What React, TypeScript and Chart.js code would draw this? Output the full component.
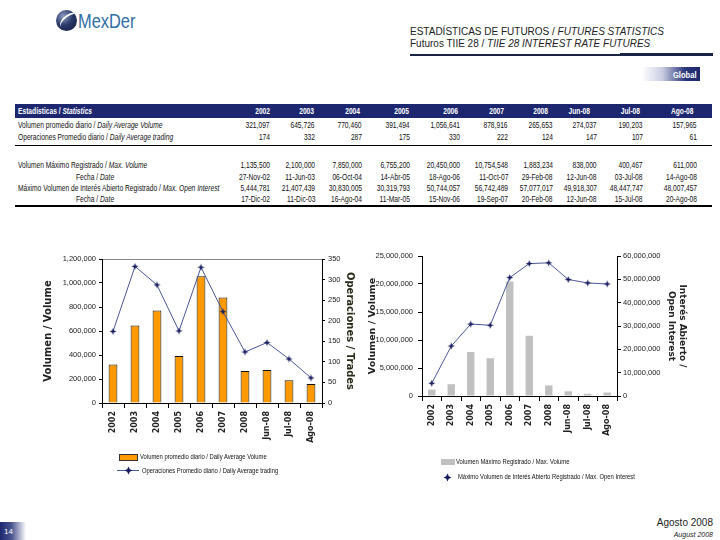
import React, { useEffect, useRef } from 'react';
import { Chart, registerables } from 'chart.js';

Chart.register(...registerables);

// ---------- DATA ----------
const categories = ['2002', '2003', '2004', '2005', '2006', '2007', '2008', 'Jun-08', 'Jul-08', 'Ago-08'];
const dailyAvgVolume = [321097, 645726, 770460, 391494, 1056641, 878916, 265653, 274037, 190203, 157965];
const dailyAvgTrades = [174, 332, 287, 175, 330, 222, 124, 147, 107, 61];
const maxVolume = [1135500, 2100000, 7850000, 6755200, 20450000, 10754548, 1883234, 838000, 400467, 611000];
const maxVolumeDate = ['27-Nov-02', '11-Jun-03', '06-Oct-04', '14-Abr-05', '18-Ago-06', '11-Oct-07', '29-Feb-08', '12-Jun-08', '03-Jul-08', '14-Ago-08'];
const maxOpenInterest = [5444781, 21407439, 30830005, 30319793, 50744057, 56742489, 57077017, 49918307, 48447747, 48007457];
const maxOpenInterestDate = ['17-Dic-02', '11-Dic-03', '16-Ago-04', '11-Mar-05', '15-Nov-06', '19-Sep-07', '20-Feb-08', '12-Jun-08', '15-Jul-08', '20-Ago-08'];

const volumeAxis = [0, 1200000, 200000];
const tradesAxis = [0, 350, 50];
const maxVolumeAxis = [0, 25000000, 5000000];
const openInterestAxis = [0, 60000000, 10000000];

// ---------- STYLE ----------
const ARIAL = "'Liberation Sans', Arial, sans-serif";
const BOLD = "'DejaVu Sans', Verdana, sans-serif";
const NAVY = '#1d2770';
const ORANGE = '#FF9900';
const GRAY = '#C0C0C0';
const LINE = '#4a5796';
const MARK = '#151a5c';

const fmt = (n: number) => n.toLocaleString('en-US');

function makeStar(r: number, color: string) {
  const c = document.createElement('canvas');
  const s = Math.ceil(r * 2 + 2);
  c.width = s;
  c.height = s;
  const g = c.getContext('2d')!;
  const cx = s / 2, cy = s / 2, ir = r * 0.38;
  g.beginPath();
  for (let i = 0; i < 8; i++) {
    const a = -Math.PI / 2 + (i * Math.PI) / 4;
    const rr = i % 2 === 0 ? r : ir;
    g.lineTo(cx + rr * Math.cos(a), cy + rr * Math.sin(a));
  }
  g.closePath();
  g.fillStyle = color;
  g.fill();
  return c;
}

const tickFont = { family: ARIAL, size: 7.5 };
const xFont = { family: BOLD, size: 8, weight: 'bold' as const };

function LeftChart() {
  const ref = useRef<HTMLCanvasElement>(null);
  useEffect(() => {
    const star = makeStar(3.5, MARK);
    const chart = new Chart(ref.current!, {
      type: 'bar',
      data: {
        labels: categories,
        datasets: [
          {
            type: 'line',
            label: 'Operaciones Promedio diario / Daily Average trading',
            data: dailyAvgTrades,
            yAxisID: 'y1',
            borderColor: LINE,
            borderWidth: 1,
            pointStyle: star as any,
            pointRadius: 3,
            tension: 0,
            order: 0,
          } as any,
          {
            type: 'bar',
            label: 'Volumen promedio diario / Daily Average Volume',
            data: dailyAvgVolume,
            yAxisID: 'y',
            backgroundColor: ORANGE,
            borderColor: '#111',
            borderWidth: 1,
            barPercentage: 0.4,
            categoryPercentage: 1,
            order: 1,
          },
        ],
      },
      options: {
        animation: false,
        responsive: false,
        maintainAspectRatio: false,
        layout: { padding: { top: 14, left: 0, right: 0, bottom: 0 } },
        plugins: { legend: { display: false }, tooltip: { enabled: false } },
        scales: {
          x: {
            offset: true,
            grid: { offset: true, drawOnChartArea: false, tickLength: 5, color: '#000' },
            border: { color: '#000' },
            ticks: { minRotation: 90, maxRotation: 90, autoSkip: false, font: xFont, color: '#222', padding: 3 },
            afterFit: (s: any) => { s.height = 52; },
          },
          y: {
            position: 'left',
            min: volumeAxis[0],
            max: volumeAxis[1],
            ticks: { stepSize: volumeAxis[2], callback: (v: any) => fmt(Number(v)), font: tickFont, color: '#222', padding: 3 },
            grid: {
              drawOnChartArea: true,
              color: (c: any) => (c.tick && c.tick.value === volumeAxis[1] ? '#888' : 'rgba(0,0,0,0)'),
              tickColor: '#000',
              tickLength: 3,
            },
            border: { color: '#000' },
            title: { display: true, text: 'Volumen / Volume', font: { family: BOLD, size: 10, weight: 'bold' }, color: '#222', padding: { top: 12, bottom: 0 } },
            afterFit: (s: any) => { s.width = 72; },
          },
          y1: {
            position: 'right',
            min: tradesAxis[0],
            max: tradesAxis[1],
            ticks: { stepSize: tradesAxis[2], font: tickFont, color: '#222', padding: 3 },
            grid: { drawOnChartArea: false, tickLength: 3, color: '#000' },
            border: { color: '#000' },
            title: { display: true, text: 'Operaciones / Trades', font: { family: BOLD, size: 10, weight: 'bold' }, color: '#2a2a1a', padding: { top: 4, bottom: 0 } },
            afterFit: (s: any) => { s.width = 38; },
          },
        },
      } as any,
    });
    return () => chart.destroy();
  }, []);
  return <canvas ref={ref} width={330} height={210} style={{ position: 'absolute', left: 30, top: 245, width: 330, height: 210 }} />;
}

function RightChart() {
  const ref = useRef<HTMLCanvasElement>(null);
  useEffect(() => {
    const star = makeStar(3.5, MARK);
    const chart = new Chart(ref.current!, {
      type: 'bar',
      data: {
        labels: categories,
        datasets: [
          {
            type: 'line',
            label: 'Máximo Volumen de Interés Abierto Registrado / Max. Open Interest',
            data: maxOpenInterest,
            yAxisID: 'y1',
            borderColor: LINE,
            borderWidth: 1,
            pointStyle: star as any,
            pointRadius: 3,
            tension: 0,
            order: 0,
          } as any,
          {
            type: 'bar',
            label: 'Volumen Máximo Registrado / Max. Volume',
            data: maxVolume,
            yAxisID: 'y',
            backgroundColor: GRAY,
            borderWidth: 0,
            barPercentage: 0.38,
            categoryPercentage: 1,
            order: 1,
          },
        ],
      },
      options: {
        animation: false,
        responsive: false,
        maintainAspectRatio: false,
        layout: { padding: { top: 14, left: 0, right: 0, bottom: 0 } },
        plugins: { legend: { display: false }, tooltip: { enabled: false } },
        scales: {
          x: {
            offset: true,
            grid: { offset: true, drawOnChartArea: false, tickLength: 5, color: '#000' },
            border: { color: '#000' },
            ticks: { minRotation: 90, maxRotation: 90, autoSkip: false, font: xFont, color: '#222', padding: 3 },
            afterFit: (s: any) => { s.height = 50; },
          },
          y: {
            position: 'left',
            min: maxVolumeAxis[0],
            max: maxVolumeAxis[1],
            ticks: { stepSize: maxVolumeAxis[2], callback: (v: any) => fmt(Number(v)), font: tickFont, color: '#222', padding: 5 },
            grid: { drawOnChartArea: false, tickLength: 4, color: '#000' },
            border: { color: '#000' },
            title: { display: true, text: 'Volumen / Volume', font: { family: BOLD, size: 9.5, weight: 'bold' }, color: '#222', padding: { top: 7, bottom: 0 } },
            afterFit: (s: any) => { s.width = 62; },
          },
          y1: {
            position: 'right',
            min: openInterestAxis[0],
            max: openInterestAxis[1],
            ticks: { stepSize: openInterestAxis[2], callback: (v: any) => fmt(Number(v)), font: tickFont, color: '#222', padding: 2 },
            grid: { drawOnChartArea: false, tickLength: 4, color: '#000' },
            border: { color: '#000' },
            title: { display: true, text: ['Interés Abierto /', 'Open Interest'], font: { family: BOLD, size: 9, weight: 'bold' }, color: '#222', padding: { top: 32, bottom: 0 } },
            afterFit: (s: any) => { s.width = 103; },
          },
        },
      } as any,
    });
    return () => chart.destroy();
  }, []);
  return <canvas ref={ref} width={360} height={204} style={{ position: 'absolute', left: 360, top: 242, width: 360, height: 204 }} />;
}

// ---------- SCALED TEXT ----------
type TProps = {
  x: number;
  y: number; // vertical centre
  align?: 'left' | 'right';
  size: number;
  sx?: number;
  bold?: boolean;
  italic?: boolean;
  color?: string;
  children: React.ReactNode;
};
function T({ x, y, align = 'left', size, sx = 0.78, bold, italic, color = '#111', children }: TProps) {
  const lh = Math.ceil(size * 1.3);
  const box: React.CSSProperties = {
    position: 'absolute',
    top: y - lh / 2,
    height: lh,
    lineHeight: lh + 'px',
    whiteSpace: 'nowrap',
    fontFamily: ARIAL,
    fontSize: size,
    fontWeight: bold ? 'bold' : 'normal',
    fontStyle: italic ? 'italic' : 'normal',
    color,
  };
  if (align === 'right') {
    box.left = x - 300;
    box.width = 300;
    box.textAlign = 'right';
  } else {
    box.left = x;
  }
  return (
    <div style={box}>
      <span style={{ display: 'inline-block', transform: `scaleX(${sx})`, transformOrigin: align === 'right' ? 'right center' : 'left center' }}>
        {children}
      </span>
    </div>
  );
}

// ---------- TABLE ----------
const valueRight = [270, 315, 362, 410, 460, 508, 553, 597, 643, 697];
const headerRight = [270, 314, 360, 409, 458, 504, 548, 590, 640, 694];

const rows = [
  { y: 125, label: 'Volumen promedio diario / ', en: 'Daily Average Volume', x: 18, values: dailyAvgVolume.map(fmt) },
  { y: 136.5, label: 'Operaciones Promedio diario / ', en: 'Daily Average trading', x: 18, values: dailyAvgTrades.map(fmt) },
  { y: 165, label: 'Volumen Máximo Registrado / ', en: 'Max. Volume', x: 18, values: maxVolume.map(fmt) },
  { y: 176.5, label: 'Fecha / ', en: 'Date', x: 76, values: maxVolumeDate },
  { y: 187.5, label: 'Máximo Volumen de Interés Abierto Registrado / ', en: 'Max. Open Interest', x: 18, values: maxOpenInterest.map(fmt) },
  { y: 198.5, label: 'Fecha / ', en: 'Date', x: 76, values: maxOpenInterestDate },
];

const TS = 9;
const TSX = 0.74;

function Table() {
  return (
    <>
      <div style={{ position: 'absolute', left: 15, top: 104, width: 697, height: 14, background: NAVY }} />
      <T x={18} y={111} size={TS} sx={TSX} bold color="#fff">
        Estadísticas / <i>Statistics</i>
      </T>
      {categories.map((c, i) => (
        <T key={c} x={headerRight[i]} y={111} align="right" size={TS} sx={TSX} bold color="#fff">
          {c}
        </T>
      ))}
      {rows.map((r, ri) => (
        <React.Fragment key={ri}>
          <T x={r.x} y={r.y} size={TS} sx={TSX}>
            {r.label}
            <i>{r.en}</i>
          </T>
          {r.values.map((v, i) => (
            <T key={i} x={valueRight[i]} y={r.y} align="right" size={TS} sx={TSX}>
              {v}
            </T>
          ))}
        </React.Fragment>
      ))}
      <div style={{ position: 'absolute', left: 15, top: 145, width: 697, height: 1, background: '#000' }} />
      <div style={{ position: 'absolute', left: 15, top: 205, width: 697, height: 1.5, background: '#000' }} />
    </>
  );
}

function StarIcon({ left, top }: { left: number; top: number }) {
  return (
    <svg width={9} height={9} style={{ position: 'absolute', left, top }}>
      <polygon points="4.5,0.5 5.8,3.2 8.5,4.5 5.8,5.8 4.5,8.5 3.2,5.8 0.5,4.5 3.2,3.2" fill={MARK} />
    </svg>
  );
}

export default function App() {
  return (
    <div style={{ position: 'fixed', left: 0, top: 0, width: 720, height: 540, background: '#fff', overflow: 'hidden' }}>
      {/* Logo */}
      <div
        style={{
          position: 'absolute', left: 56, top: 10, width: 21, height: 21, borderRadius: '50%',
          background: 'radial-gradient(circle at 35% 30%, #8e9cc0 0%, #2a3a6a 45%, #0c1535 100%)',
          overflow: 'hidden',
        }}
      >
        <div style={{ position: 'absolute', left: 3, top: 4, width: 22, height: 12, borderRadius: '50%', borderTop: '2px solid #fff', transform: 'rotate(-35deg)' }} />
      </div>
      <T x={78} y={21} size={20} sx={0.82} color="#2f6ea6">MexDer</T>

      {/* Header */}
      <T x={410} y={31} size={10} sx={1} color="#222">
        ESTADÍSTICAS DE FUTUROS / <i>FUTURES STATISTICS</i>
      </T>
      <T x={410} y={43} size={10} sx={1} color="#222">
        Futuros TIIE 28 / <i>TIIE 28 INTEREST RATE FUTURES</i>
      </T>
      <div style={{ position: 'absolute', left: 410, top: 54, width: 303, height: 2, background: '#1a2545' }} />
      <div style={{ position: 'absolute', left: 620, top: 53, width: 93, height: 3, background: '#1a2545' }} />

      {/* Global badge */}
      <div
        style={{
          position: 'absolute', left: 642, top: 67, width: 58, height: 14,
          background: 'linear-gradient(to right, #ffffff 0%, #c9cde2 35%, #2a3478 75%, #1d2770 100%)',
        }}
      />
      <T x={697} y={74} align="right" size={9.5} sx={0.8} bold color="#fff">Global</T>

      <Table />

      <LeftChart />
      <RightChart />

      {/* Left legend */}
      <div style={{ position: 'absolute', left: 119, top: 454, width: 17, height: 5, background: ORANGE, border: '0.5px solid #333' }} />
      <T x={140} y={457} size={7.5}>Volumen promedio diario / Daily Average Volume</T>
      <div style={{ position: 'absolute', left: 117, top: 470, width: 22, height: 1, background: LINE }} />
      <StarIcon left={123.5} top={466} />
      <T x={142} y={470.5} size={7.5}>Operaciones Promedio diario / Daily Average trading</T>

      {/* Right legend */}
      <div style={{ position: 'absolute', left: 441, top: 459, width: 14, height: 6, background: GRAY }} />
      <T x={456} y={462} size={7.5}>Volumen Máximo Registrado / Max. Volume</T>
      <StarIcon left={443} top={472.5} />
      <T x={458} y={477} size={7.5}>Máximo Volumen de Interés Abierto Registrado / Max. Open Interest</T>

      {/* Footer */}
      <div style={{ position: 'absolute', left: 0, top: 522, width: 26, height: 18, background: 'linear-gradient(to right, #1d2770 0%, #4b5590 45%, #ffffff 100%)' }} />
      <T x={4} y={531} size={8} sx={1} color="#fff">14</T>
      <T x={713} y={522} align="right" size={10} sx={1} color="#222">Agosto 2008</T>
      <T x={713} y={535} align="right" size={7} sx={1} italic color="#222">August 2008</T>
    </div>
  );
}
